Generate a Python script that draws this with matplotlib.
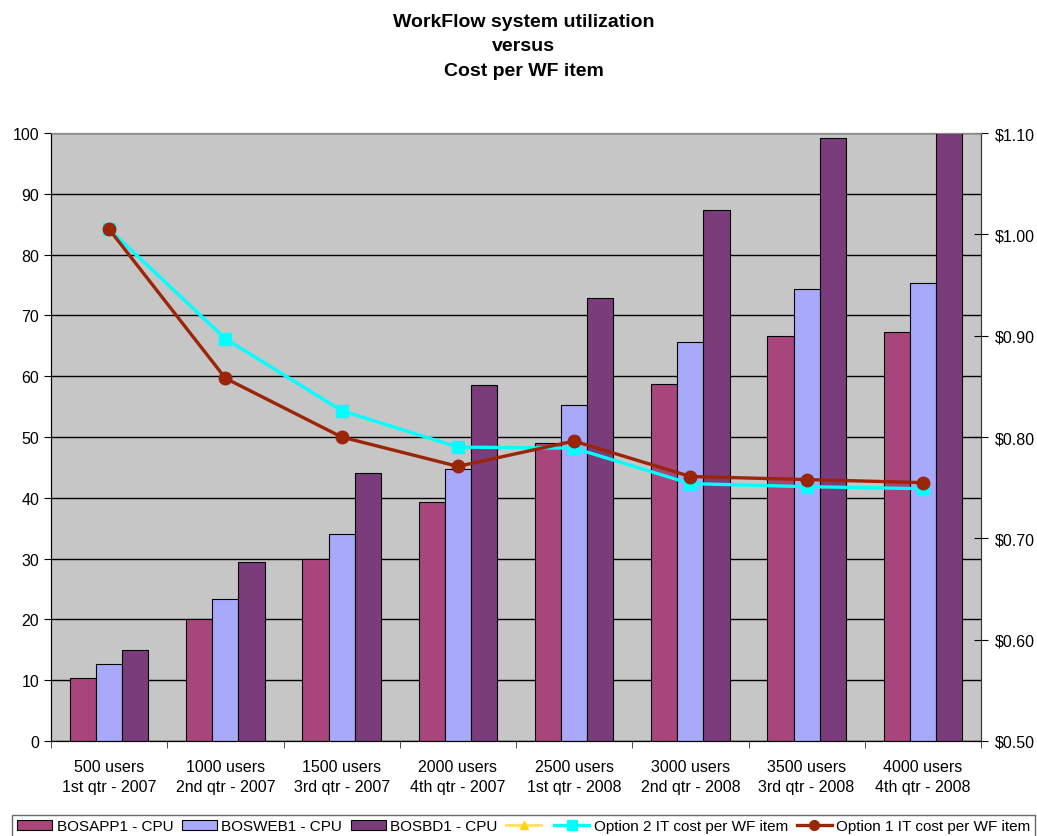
import numpy as np
import matplotlib
matplotlib.use('Agg')
import matplotlib.pyplot as plt
from matplotlib.lines import Line2D
from matplotlib.patches import Patch
from matplotlib.ticker import FuncFormatter

# categories and series
categories = ['500 users\n1st qtr - 2007', '1000 users\n2nd qtr - 2007',
              '1500 users\n3rd qtr - 2007', '2000 users\n4th qtr - 2007',
              '2500 users\n1st qtr - 2008', '3000 users\n2nd qtr - 2008',
              '3500 users\n3rd qtr - 2008', '4000 users\n4th qtr - 2008']
bosapp1 = [10.4, 20.0, 29.9, 39.3, 49.0, 58.7, 66.6, 67.2]
bosweb1 = [12.7, 23.3, 34.0, 44.7, 55.3, 65.7, 74.4, 75.3]
bosbd1 = [15.0, 29.5, 44.0, 58.5, 72.9, 87.4, 99.2, 100.0]
option2 = [1.005, 0.897, 0.826, 0.790, 0.789, 0.754, 0.751, 0.749]
option1 = [1.005, 0.858, 0.800, 0.771, 0.796, 0.761, 0.758, 0.755]

plt.rcParams['font.family'] = ['Liberation Sans', 'DejaVu Sans']

fig = plt.figure(figsize=(10.37, 8.37), dpi=100)
ax = fig.add_axes([51/1037, 1 - 742/837, 930/1037, 608/837])
ax.set_facecolor('#c6c6c6')

x = np.arange(len(categories))
w = 0.225
c_app, c_web, c_bd = '#a8457a', '#a9a9fb', '#7b3c7c'
ax.bar(x - w, bosapp1, w, color=c_app, edgecolor='black', linewidth=0.8, zorder=3)
ax.bar(x, bosweb1, w, color=c_web, edgecolor='black', linewidth=0.8, zorder=3)
ax.bar(x + w, bosbd1, w, color=c_bd, edgecolor='black', linewidth=0.8, zorder=3)

ax.set_xlim(-0.5, len(categories) - 0.5)
ax.set_ylim(0, 100)
ax.set_yticks(range(0, 101, 10))
ax.yaxis.grid(True, color='black', linewidth=1.0, zorder=1)
ax.set_axisbelow(True)
ax.set_xticks(x)
ax.set_xticklabels(categories, fontsize=11.5, linespacing=1.45)
ax.set_xticks(np.arange(-0.5, len(categories)), minor=True)
ax.tick_params(axis='x', which='major', length=0, pad=13)
ax.tick_params(axis='x', which='minor', length=5, direction='out', color='#333333')
ax.tick_params(axis='y', labelsize=11.5, length=5, direction='out')
for s in ['top', 'right']:
    ax.spines[s].set_color('#888888')
ax.spines['left'].set_color('#333333')
ax.spines['bottom'].set_color('#333333')

ax2 = ax.twinx()
ax2.set_ylim(0.5, 1.1)
ax2.set_yticks(np.arange(0.5, 1.101, 0.1))
ax2.yaxis.set_major_formatter(FuncFormatter(lambda v, p: '$%.2f' % v))
ax2.tick_params(axis='y', labelsize=11.5, length=10, direction='inout', pad=5)
ax2.spines['right'].set_color('#333333')
ax2.spines['top'].set_color('#888888')
c_cyan, c_red = '#00ffff', '#9a2508'
ax2.plot(x, option2, color=c_cyan, linewidth=2.4, marker='s', markersize=8, zorder=4)
ax2.plot(x, option1, color=c_red, linewidth=2.4, marker='o', markersize=9, zorder=5)

fig.text(0.505, 0.983, 'WorkFlow system utilization\nversus\nCost per WF item',
         ha='center', va='top', fontsize=14, fontweight='bold', linespacing=1.55)

handles = [Patch(facecolor=c_app, edgecolor='black', linewidth=0.8),
           Patch(facecolor=c_web, edgecolor='black', linewidth=0.8),
           Patch(facecolor=c_bd, edgecolor='black', linewidth=0.8),
           Line2D([], [], color='#ffe066', linewidth=2, marker='^', markersize=6,
                  markerfacecolor='#ffd700', markeredgecolor='#ffd700'),
           Line2D([], [], color=c_cyan, linewidth=2.4, marker='s', markersize=7),
           Line2D([], [], color=c_red, linewidth=2.4, marker='o', markersize=7)]
labels = ['BOSAPP1 - CPU', 'BOSWEB1 - CPU', 'BOSBD1 - CPU', '',
          'Option 2 IT cost per WF item', 'Option 1 IT cost per WF item']
leg = fig.legend(handles, labels, loc='lower center', bbox_to_anchor=(0.505, -0.006),
                 ncol=6, fontsize=11, frameon=True, fancybox=False,
                 handlelength=2.3, handletextpad=0.3, columnspacing=0.55,
                 borderpad=0.3, borderaxespad=0.2)
leg.get_frame().set_edgecolor('#444444')
leg.get_frame().set_linewidth(1.0)

fig.savefig('out.png', dpi=100)
